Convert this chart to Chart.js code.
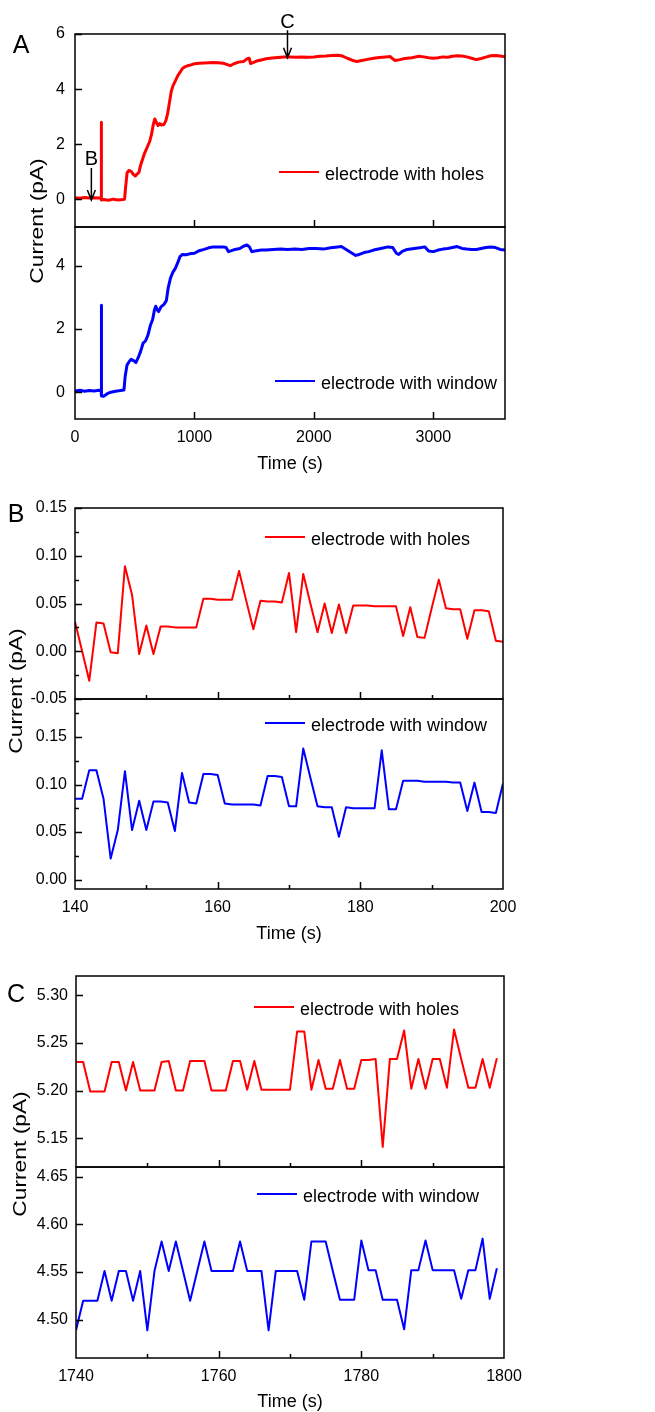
<!DOCTYPE html>
<html>
<head>
<meta charset="utf-8">
<script src="https://cdn.jsdelivr.net/npm/chart.js@4.4.1/dist/chart.umd.min.js"></script>
<style>
  html, body { margin: 0; padding: 0; width: 655px; height: 1412px; overflow: hidden; background: #fff; }
  #fig { position: relative; width: 655px; height: 1412px; }
  #fig canvas { position: absolute; left: 0; }
  .lbl { position: absolute; font-family: 'Liberation Sans', Arial, sans-serif; color: #000; white-space: nowrap; line-height: 1; z-index: 5; }
  .panel { font-size: 25px; transform: translate(-50%, -50%); }
  .ytitle { font-size: 19px; transform: translate(-50%, -50%) rotate(-90deg) scale(1.2, 1); }
</style>
</head>
<body>
<div id="fig">
  <div class="lbl panel" style="left:21px;top:44px">A</div>
  <div class="lbl panel" style="left:16px;top:513px">B</div>
  <div class="lbl panel" style="left:16px;top:993px">C</div>
  <div class="lbl ytitle" style="left:36px;top:221px">Current (pA)</div>
  <div class="lbl ytitle" style="left:15px;top:691px">Current (pA)</div>
  <div class="lbl ytitle" style="left:19px;top:1154px">Current (pA)</div>
</div>
<script>
// --- Data ------------------------------------------------------------------
// Panel A: full recording, 0-3600 s
var aTimeHoles = [0, 40, 80, 120, 160, 200, 218, 220, 222, 240, 280, 320, 360, 400, 415, 425, 436, 450, 470, 490, 505, 520, 535, 550, 565, 580, 595, 610, 625, 640, 655, 668, 680, 695, 710, 725, 745, 760, 775, 790, 805, 820, 840, 860, 880, 900, 920, 945, 970, 1000, 1040, 1080, 1120, 1160, 1200, 1240, 1270, 1300, 1330, 1370, 1410, 1440, 1458, 1470, 1490, 1520, 1560, 1600, 1650, 1700, 1750, 1800, 1850, 1900, 1950, 2000, 2050, 2100, 2150, 2200, 2240, 2280, 2320, 2360, 2400, 2450, 2500, 2550, 2600, 2640, 2660, 2680, 2720, 2760, 2820, 2880, 2920, 2960, 3000, 3040, 3080, 3120, 3160, 3200, 3240, 3280, 3320, 3360, 3400, 3440, 3480, 3520, 3560, 3600];
var aHoles = [0.06, 0.04, 0.07, 0.05, 0.06, 0.05, 0.06, 2.80, -0.02, 0.00, -0.03, 0.01, -0.02, 0.00, 0.01, 0.50, 0.96, 1.05, 1.02, 0.90, 0.85, 0.92, 0.98, 1.25, 1.45, 1.65, 1.80, 1.95, 2.10, 2.35, 2.70, 2.92, 2.80, 2.68, 2.75, 2.70, 2.72, 2.85, 3.10, 3.50, 3.90, 4.12, 4.30, 4.48, 4.62, 4.75, 4.81, 4.85, 4.88, 4.92, 4.94, 4.95, 4.96, 4.97, 4.96, 4.94, 4.90, 4.85, 4.92, 4.98, 5.00, 5.10, 5.12, 4.93, 4.96, 5.02, 5.06, 5.10, 5.13, 5.15, 5.17, 5.17, 5.16, 5.17, 5.16, 5.17, 5.19, 5.20, 5.22, 5.23, 5.20, 5.12, 5.05, 5.00, 5.04, 5.08, 5.12, 5.15, 5.17, 5.18, 5.10, 5.04, 5.07, 5.11, 5.14, 5.19, 5.17, 5.14, 5.12, 5.14, 5.17, 5.16, 5.19, 5.21, 5.20, 5.17, 5.12, 5.07, 5.11, 5.16, 5.21, 5.22, 5.20, 5.17];
var aTimeWindow = [0, 40, 80, 120, 160, 200, 218, 220, 223, 240, 270, 300, 340, 380, 410, 420, 435, 450, 470, 490, 510, 530, 550, 570, 590, 610, 630, 650, 665, 676, 690, 700, 720, 745, 765, 780, 800, 820, 840, 860, 880, 900, 930, 960, 1000, 1040, 1080, 1120, 1160, 1200, 1240, 1265, 1285, 1310, 1340, 1380, 1410, 1440, 1460, 1480, 1520, 1560, 1600, 1660, 1720, 1780, 1840, 1900, 1960, 2020, 2080, 2140, 2200, 2230, 2270, 2310, 2350, 2380, 2420, 2460, 2500, 2560, 2620, 2660, 2690, 2710, 2740, 2780, 2840, 2900, 2930, 2960, 3000, 3040, 3080, 3120, 3160, 3200, 3240, 3280, 3320, 3360, 3400, 3440, 3480, 3520, 3560, 3600];
var aWindow = [0.04, 0.06, 0.03, 0.05, 0.04, 0.06, 0.04, 2.75, -0.12, -0.13, -0.05, 0.00, 0.03, 0.05, 0.07, 0.50, 0.85, 0.95, 1.04, 1.00, 0.94, 1.10, 1.30, 1.55, 1.62, 1.80, 2.10, 2.30, 2.60, 2.72, 2.60, 2.55, 2.70, 2.78, 2.90, 3.30, 3.62, 3.80, 3.92, 4.10, 4.30, 4.36, 4.35, 4.38, 4.40, 4.48, 4.52, 4.57, 4.60, 4.60, 4.60, 4.58, 4.45, 4.48, 4.52, 4.55, 4.62, 4.66, 4.60, 4.45, 4.48, 4.50, 4.50, 4.52, 4.53, 4.52, 4.53, 4.52, 4.55, 4.55, 4.53, 4.57, 4.60, 4.61, 4.52, 4.42, 4.33, 4.36, 4.42, 4.45, 4.50, 4.55, 4.60, 4.58, 4.40, 4.36, 4.46, 4.52, 4.55, 4.58, 4.60, 4.47, 4.45, 4.50, 4.53, 4.55, 4.58, 4.61, 4.55, 4.53, 4.52, 4.52, 4.55, 4.58, 4.60, 4.58, 4.52, 4.50];

// Panel B: zoom 140-200 s
var bTime = [140, 141, 142, 143, 144, 145, 146, 147, 148, 149, 150, 151, 152, 153, 154, 155, 156, 157, 158, 159, 160, 161, 162, 163, 164, 165, 166, 167, 168, 169, 170, 171, 172, 173, 174, 175, 176, 177, 178, 179, 180, 181, 182, 183, 184, 185, 186, 187, 188, 189, 190, 191, 192, 193, 194, 195, 196, 197, 198, 199, 200];
var bHoles = [0.031, 0.000, -0.031, 0.030, 0.029, -0.001, -0.002, 0.089, 0.059, -0.003, 0.027, -0.003, 0.026, 0.026, 0.025, 0.025, 0.025, 0.025, 0.055, 0.055, 0.054, 0.054, 0.054, 0.084, 0.053, 0.023, 0.053, 0.052, 0.052, 0.051, 0.082, 0.020, 0.081, 0.050, 0.020, 0.050, 0.019, 0.049, 0.019, 0.048, 0.048, 0.048, 0.047, 0.047, 0.047, 0.047, 0.016, 0.046, 0.015, 0.014, 0.045, 0.075, 0.045, 0.044, 0.044, 0.013, 0.043, 0.043, 0.042, 0.011, 0.010];
var bWindow = [0.085, 0.085, 0.115, 0.115, 0.085, 0.022, 0.052, 0.114, 0.052, 0.083, 0.052, 0.082, 0.082, 0.081, 0.051, 0.112, 0.081, 0.080, 0.111, 0.111, 0.110, 0.080, 0.079, 0.079, 0.079, 0.079, 0.078, 0.109, 0.109, 0.108, 0.077, 0.077, 0.138, 0.107, 0.077, 0.076, 0.076, 0.045, 0.076, 0.075, 0.075, 0.075, 0.075, 0.136, 0.074, 0.074, 0.104, 0.104, 0.104, 0.103, 0.103, 0.103, 0.103, 0.102, 0.102, 0.072, 0.102, 0.071, 0.071, 0.070, 0.101];

// Panel C: zoom 1740-1800 s
var cTime = [1740, 1741, 1742, 1743, 1744, 1745, 1746, 1747, 1748, 1749, 1750, 1751, 1752, 1753, 1754, 1755, 1756, 1757, 1758, 1759, 1760, 1761, 1762, 1763, 1764, 1765, 1766, 1767, 1768, 1769, 1770, 1771, 1772, 1773, 1774, 1775, 1776, 1777, 1778, 1779, 1780, 1781, 1782, 1783, 1784, 1785, 1786, 1787, 1788, 1789, 1790, 1791, 1792, 1793, 1794, 1795, 1796, 1797, 1798, 1799];
var cHoles = [5.230, 5.230, 5.199, 5.199, 5.199, 5.230, 5.230, 5.200, 5.230, 5.200, 5.200, 5.200, 5.230, 5.231, 5.200, 5.200, 5.231, 5.231, 5.231, 5.200, 5.200, 5.200, 5.231, 5.231, 5.201, 5.231, 5.201, 5.201, 5.201, 5.201, 5.201, 5.262, 5.262, 5.201, 5.232, 5.202, 5.202, 5.232, 5.202, 5.202, 5.232, 5.232, 5.233, 5.141, 5.233, 5.233, 5.263, 5.202, 5.233, 5.202, 5.233, 5.233, 5.203, 5.264, 5.233, 5.203, 5.203, 5.233, 5.203, 5.234];
var cWindow = [4.489, 4.520, 4.520, 4.520, 4.551, 4.520, 4.551, 4.551, 4.520, 4.551, 4.489, 4.551, 4.582, 4.551, 4.582, 4.551, 4.520, 4.551, 4.582, 4.551, 4.551, 4.551, 4.551, 4.582, 4.551, 4.551, 4.551, 4.489, 4.551, 4.551, 4.551, 4.551, 4.521, 4.582, 4.582, 4.582, 4.551, 4.521, 4.521, 4.521, 4.583, 4.552, 4.552, 4.521, 4.521, 4.521, 4.490, 4.552, 4.552, 4.583, 4.552, 4.552, 4.552, 4.552, 4.522, 4.552, 4.552, 4.585, 4.522, 4.554];

// Tick values
var aXTicks = [0, 1000, 2000, 3000];
var aXMarks = [1000, 2000, 3000];
var aTopYTicks = [0, 2, 4, 6];
var aBotYTicks = [0, 2, 4];
var bXTicks = [140, 160, 180, 200];
var bXMarks = [160, 180];
var bXMinor = [150, 170, 190];
var bTopYTicks = [-0.05, 0, 0.05, 0.10, 0.15];
var bTopYMinor = [-0.025, 0.025, 0.075, 0.125];
var bBotYTicks = [0, 0.05, 0.10, 0.15];
var bBotYMinor = [0.025, 0.075, 0.125, 0.175];
var cXTicks = [1740, 1760, 1780, 1800];
var cXMarks = [1760, 1780];
var cXMinor = [1750, 1770, 1790];
var cTopYTicks = [5.15, 5.20, 5.25, 5.30];
var cBotYTicks = [4.50, 4.55, 4.60, 4.65];

// Arrow annotations in panel A (time, tail value, tip value, label value)
var arrowLabels = ['B', 'C'];
var arrowTimes = [137, 1779];
var arrowTails = [1.14, 6.14];
var arrowTips = [-0.02, 5.14];
var arrowTextAt = [1.46, 6.43];

var RED = '#ff0000';
var BLUE = '#0000ff';
var FONT = "'Liberation Sans', Arial, sans-serif";

// --- Drawing helpers -------------------------------------------------------
function drawFrame(chart, cfg){
  var ctx = chart.ctx, a = chart.chartArea, sx = chart.scales.x, sy = chart.scales.y;
  ctx.save();
  ctx.strokeStyle = '#000';
  ctx.lineWidth = 1.5;
  ctx.strokeRect(a.left, a.top, a.right - a.left, a.bottom - a.top);

  ctx.beginPath();
  (cfg.xMarks || []).forEach(function(v){
    var px = Math.round(sx.getPixelForValue(v)) + 0.5;
    ctx.moveTo(px, a.bottom); ctx.lineTo(px, a.bottom - 7);
  });
  (cfg.xMinor || []).forEach(function(v){
    var px = Math.round(sx.getPixelForValue(v)) + 0.5;
    ctx.moveTo(px, a.bottom); ctx.lineTo(px, a.bottom - 4);
  });
  cfg.yTicks.forEach(function(v){
    var py = Math.round(sy.getPixelForValue(v)) + 0.5;
    ctx.moveTo(a.left, py); ctx.lineTo(a.left + 7, py);
  });
  (cfg.yMinor || []).forEach(function(v){
    var py = Math.round(sy.getPixelForValue(v)) + 0.5;
    ctx.moveTo(a.left, py); ctx.lineTo(a.left + 4, py);
  });
  ctx.stroke();

  // legend
  var ly = cfg.legendY - cfg.canvasTop;
  ctx.strokeStyle = cfg.color;
  ctx.lineWidth = 2;
  ctx.beginPath();
  ctx.moveTo(cfg.legendX, ly); ctx.lineTo(cfg.legendX + 40, ly);
  ctx.stroke();
  ctx.fillStyle = '#000';
  ctx.font = '18px ' + FONT;
  ctx.textAlign = 'left';
  ctx.textBaseline = 'alphabetic';
  ctx.fillText(chart.data.datasets[0].label, cfg.legendX + 46, ly + 7.5);

  // arrows
  if (cfg.arrows) {
    ctx.strokeStyle = '#000';
    ctx.lineWidth = 1.5;
    ctx.font = '20px ' + FONT;
    ctx.textAlign = 'center';
    ctx.textBaseline = 'middle';
    arrowLabels.forEach(function(lab, i){
      var px = sx.getPixelForValue(arrowTimes[i]);
      var y0 = sy.getPixelForValue(arrowTails[i]);
      var y1 = sy.getPixelForValue(arrowTips[i]);
      ctx.beginPath();
      ctx.moveTo(px, y0); ctx.lineTo(px, y1);
      ctx.moveTo(px - 4, y1 - 10); ctx.lineTo(px, y1); ctx.lineTo(px + 4, y1 - 10);
      ctx.stroke();
      ctx.fillText(lab, px, sy.getPixelForValue(arrowTextAt[i]));
    });
  }
  ctx.restore();
}

function makePanel(cfg){
  var fig = document.getElementById('fig');
  var cv = document.createElement('canvas');
  cv.width = 655;
  cv.height = cfg.canvasBottom - cfg.canvasTop;
  cv.style.top = cfg.canvasTop + 'px';
  fig.appendChild(cv);

  var showX = !!cfg.xh;
  var points = cfg.x.map(function(t, i){ return { x: t, y: cfg.y[i] }; });

  return new Chart(cv.getContext('2d'), {
    type: 'line',
    data: {
      datasets: [{
        label: cfg.label,
        data: points,
        borderColor: cfg.color,
        borderWidth: cfg.lw,
        borderJoinStyle: 'round',
        pointRadius: 0,
        tension: 0,
        fill: false
      }]
    },
    options: {
      responsive: false,
      animation: false,
      devicePixelRatio: 1,
      events: [],
      layout: {
        padding: {
          left: 0,
          right: 655 - cfg.right,
          top: cfg.top - cfg.canvasTop,
          bottom: cfg.canvasBottom - cfg.bottom - (cfg.xh || 0)
        }
      },
      plugins: { legend: { display: false }, tooltip: { enabled: false } },
      scales: {
        x: {
          type: 'linear',
          min: cfg.xMin, max: cfg.xMax,
          grid: { display: false, drawTicks: false },
          border: { display: false },
          ticks: {
            display: showX, padding: 9, autoSkip: false, maxRotation: 0,
            color: '#000', font: { family: FONT, size: 16 },
            callback: function(v){ return String(v); }
          },
          title: { display: showX, text: 'Time (s)', padding: 0, color: '#000', font: { family: FONT, size: 18 } },
          afterBuildTicks: function(s){ s.ticks = cfg.xTicks.map(function(v){ return { value: v }; }); },
          afterFit: function(s){ s.height = cfg.xh || 0; }
        },
        y: {
          type: 'linear',
          min: cfg.yMin, max: cfg.yMax,
          grid: { display: false, drawTicks: false },
          border: { display: false },
          ticks: {
            padding: cfg.yPad, autoSkip: false,
            color: '#000', font: { family: FONT, size: 16 },
            callback: function(v){ return cfg.dec ? Number(v).toFixed(cfg.dec) : String(v); }
          },
          afterBuildTicks: function(s){ s.ticks = cfg.yTicks.map(function(v){ return { value: v }; }); },
          afterFit: function(s){ s.width = cfg.left; }
        }
      }
    },
    plugins: [{ id: 'frame', afterDraw: function(chart){ drawFrame(chart, cfg); } }]
  });
}

// --- Panels ----------------------------------------------------------------
makePanel({ label: 'electrode with holes', color: RED, lw: 3, x: aTimeHoles, y: aHoles,
  left: 75, right: 505, top: 34, bottom: 227, canvasTop: 0, canvasBottom: 252,
  xMin: 0, xMax: 3600, xTicks: aXTicks, xMarks: aXMarks,
  yMin: -1, yMax: 6, yTicks: aTopYTicks, yPad: 10, dec: 0,
  legendX: 279, legendY: 172, arrows: true });
makePanel({ label: 'electrode with window', color: BLUE, lw: 3, x: aTimeWindow, y: aWindow,
  left: 75, right: 505, top: 227, bottom: 419, canvasTop: 202, canvasBottom: 475, xh: 56,
  xMin: 0, xMax: 3600, xTicks: aXTicks, xMarks: aXMarks,
  yMin: -0.85, yMax: 5.23, yTicks: aBotYTicks, yPad: 10, dec: 0,
  legendX: 275, legendY: 381 });

makePanel({ label: 'electrode with holes', color: RED, lw: 2, x: bTime, y: bHoles,
  left: 75, right: 503, top: 508, bottom: 699, canvasTop: 482, canvasBottom: 724,
  xMin: 140, xMax: 200, xTicks: bXTicks, xMarks: bXMarks, xMinor: bXMinor,
  yMin: -0.05, yMax: 0.15, yTicks: bTopYTicks, yMinor: bTopYMinor, yPad: 8, dec: 2,
  legendX: 265, legendY: 537 });
makePanel({ label: 'electrode with window', color: BLUE, lw: 2, x: bTime, y: bWindow,
  left: 75, right: 503, top: 699, bottom: 889, canvasTop: 674, canvasBottom: 945, xh: 56,
  xMin: 140, xMax: 200, xTicks: bXTicks, xMarks: bXMarks, xMinor: bXMinor,
  yMin: -0.01, yMax: 0.19, yTicks: bBotYTicks, yMinor: bBotYMinor, yPad: 8, dec: 2,
  legendX: 265, legendY: 723 });

makePanel({ label: 'electrode with holes', color: RED, lw: 2, x: cTime, y: cHoles,
  left: 76, right: 504, top: 976, bottom: 1167, canvasTop: 950, canvasBottom: 1192,
  xMin: 1740, xMax: 1800, xTicks: cXTicks, xMarks: cXMarks, xMinor: cXMinor,
  yMin: 5.12, yMax: 5.32, yTicks: cTopYTicks, yPad: 8, dec: 2,
  legendX: 254, legendY: 1007 });
makePanel({ label: 'electrode with window', color: BLUE, lw: 2, x: cTime, y: cWindow,
  left: 76, right: 504, top: 1167, bottom: 1358, canvasTop: 1142, canvasBottom: 1413, xh: 55,
  xMin: 1740, xMax: 1800, xTicks: cXTicks, xMarks: cXMarks, xMinor: cXMinor,
  yMin: 4.46, yMax: 4.66, yTicks: cBotYTicks, yPad: 8, dec: 2,
  legendX: 257, legendY: 1194 });
</script>
</body>
</html>
